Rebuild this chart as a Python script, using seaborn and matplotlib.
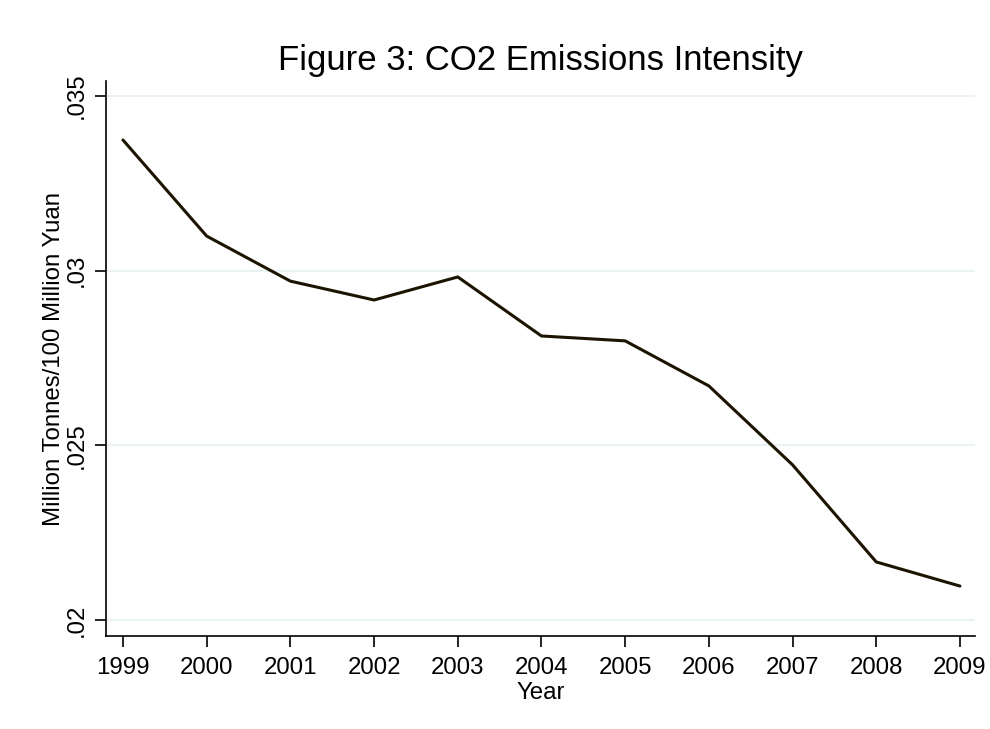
import matplotlib
matplotlib.use("Agg")
import matplotlib.pyplot as plt
import seaborn as sns
import pandas as pd

years = [1999, 2000, 2001, 2002, 2003, 2004, 2005, 2006, 2007, 2008, 2009]
intensity = [0.03374, 0.03099, 0.02970, 0.02916, 0.02982, 0.02813,
             0.02799, 0.02670, 0.02444, 0.02166, 0.02097]
ytick_vals = [0.02, 0.025, 0.03, 0.035]
ytick_labels = [".02", ".025", ".03", ".035"]

df = pd.DataFrame({"Year": years, "Intensity": intensity})

sns.set_theme(style="white")
plt.rcParams["font.family"] = ["Liberation Sans", "DejaVu Sans"]
plt.rcParams["text.color"] = "black"
plt.rcParams["axes.labelcolor"] = "black"
plt.rcParams["xtick.color"] = "black"
plt.rcParams["ytick.color"] = "black"

fig = plt.figure(figsize=(9.9, 7.29), dpi=100)
ax = fig.add_axes([106 / 990, 1 - 636 / 729, (975 - 106) / 990, (636 - 81) / 729])

sns.lineplot(data=df, x="Year", y="Intensity", ax=ax, color="#1c1400", linewidth=2.2)

ax.set_xlim(1998.797, 2009.18)
ax.set_ylim(0.01954, 0.03543)
ax.set_xticks(years)
ax.set_xticklabels([str(y) for y in years], fontsize=17.3)
ax.set_yticks(ytick_vals)
ax.set_yticklabels(ytick_labels, fontsize=17.3, rotation=90, va="center")

for v in ytick_vals:
    ax.axhline(v, color="#eaf2f3", linewidth=1.5, zorder=0)

for side in ["top", "right"]:
    ax.spines[side].set_visible(False)
for side in ["left", "bottom"]:
    ax.spines[side].set_color("black")
    ax.spines[side].set_linewidth(1.2)

ax.tick_params(axis="both", which="both", direction="out", length=8, width=1.2,
               color="black", left=True, bottom=True, pad=7)
ax.tick_params(axis="y", pad=5)

ax.set_xlabel("Year", fontsize=17.3, labelpad=2)
ax.set_ylabel("Million Tonnes/100 Million Yuan", fontsize=17.3, labelpad=1)
ax.set_title("Figure 3: CO2 Emissions Intensity", fontsize=25, pad=8)

fig.savefig("out.png", dpi=100, facecolor="white")
